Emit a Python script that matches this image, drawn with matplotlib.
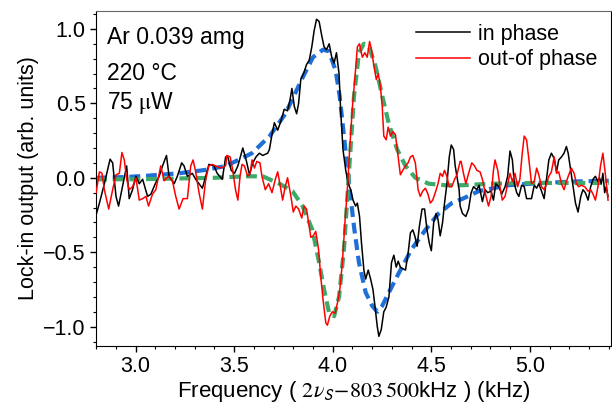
import matplotlib
matplotlib.use('Agg')
import matplotlib.pyplot as plt
from matplotlib.ticker import MultipleLocator

plt.rcParams['font.family'] = ['Liberation Sans', 'DejaVu Sans']
plt.rcParams['mathtext.fontset'] = 'stix'

# in phase (black)
x_in = [2.800, 2.817, 2.842, 2.871, 2.884, 2.901, 2.914, 2.935, 2.955, 2.968, 2.985, 3.002,
        3.019, 3.036, 3.061, 3.078, 3.100, 3.120, 3.137, 3.157, 3.170, 3.196, 3.212, 3.234,
        3.246, 3.263, 3.288, 3.305, 3.339, 3.356, 3.372, 3.398, 3.414, 3.440, 3.457, 3.468,
        3.485, 3.502, 3.519, 3.544, 3.561, 3.578, 3.594, 3.611, 3.628, 3.645, 3.670, 3.679,
        3.692, 3.704, 3.721, 3.737, 3.754, 3.771, 3.783, 3.793, 3.805, 3.817, 3.827, 3.838,
        3.855, 3.867, 3.881, 3.894, 3.906, 3.918, 3.931, 3.945, 3.956, 3.968, 3.982, 3.995,
        4.007, 4.019, 4.032, 4.040, 4.052, 4.066, 4.079, 4.091, 4.103, 4.116, 4.125, 4.136,
        4.146, 4.158, 4.167, 4.180, 4.192, 4.204, 4.214, 4.226, 4.234, 4.246, 4.259, 4.271,
        4.285, 4.298, 4.310, 4.322, 4.332, 4.343, 4.355, 4.369, 4.382, 4.394, 4.406, 4.416,
        4.428, 4.439, 4.453, 4.466, 4.478, 4.490, 4.500, 4.512, 4.524, 4.534, 4.545, 4.557,
        4.567, 4.579, 4.591, 4.601, 4.613, 4.621, 4.630, 4.641, 4.646, 4.658, 4.675, 4.689,
        4.702, 4.714, 4.731, 4.742, 4.759, 4.773, 4.786, 4.803, 4.815, 4.827, 4.843, 4.857,
        4.874, 4.887, 4.899, 4.911, 4.921, 4.933, 4.944, 4.958, 4.971, 4.983, 4.995, 5.008,
        5.022, 5.034, 5.045, 5.059, 5.072, 5.084, 5.096, 5.109, 5.123, 5.135, 5.146, 5.160,
        5.173, 5.185, 5.194, 5.207, 5.219, 5.231, 5.244, 5.258, 5.269, 5.281, 5.295, 5.308,
        5.320, 5.332, 5.345, 5.353, 5.362, 5.370, 5.379, 5.387, 5.396]
y_in = [-0.25, -0.17, -0.04, 0.125, 0.10, -0.125, -0.19, -0.05, 0.08, -0.14, -0.08, 0.01,
        -0.04, -0.01, -0.125, -0.11, -0.04, 0.01, 0.08, 0.15, 0.01, -0.04, 0.01, 0.10,
        0.08, 0.01, 0.03, -0.01, -0.07, 0.01, 0.09, 0.08, 0.03, -0.01, 0.14, 0.14,
        0.05, 0.03, 0.08, 0.20, 0.12, 0.02, 0.10, 0.14, 0.165, 0.15, 0.165, 0.19,
        0.29, 0.37, 0.32, 0.38, 0.46, 0.45, 0.52, 0.60, 0.48, 0.43, 0.50, 0.66,
        0.71, 0.76, 0.79, 0.88, 0.99, 1.065, 1.05, 0.95, 0.88, 0.86, 0.90, 0.81,
        0.77, 0.84, 0.70, 0.46, 0.19, 0.05, -0.04, -0.08, -0.15, -0.19, -0.17, -0.26,
        -0.44, -0.62, -0.68, -0.62, -0.68, -0.75, -0.86, -1.0, -1.065, -1.02, -0.90, -0.87,
        -0.80, -0.57, -0.52, -0.60, -0.56, -0.60, -0.61, -0.62, -0.51, -0.37, -0.35, -0.39,
        -0.46, -0.33, -0.21, -0.21, -0.35, -0.44, -0.49, -0.30, -0.24, -0.28, -0.39, -0.30,
        -0.17, -0.04, 0.14, 0.22, 0.19, 0.08, 0.01, -0.08, -0.19, -0.24, -0.26, -0.21,
        -0.10, -0.06, -0.08, -0.05, -0.16, -0.08, -0.10, -0.09, -0.15, -0.04, -0.06, -0.11,
        -0.06, 0.01, 0.18, 0.12, -0.04, -0.10, -0.125, -0.05, -0.06, -0.14, -0.14, -0.14,
        -0.05, -0.07, -0.04, -0.09, -0.14, -0.01, 0.12, 0.165, 0.13, 0.04, 0.12, 0.14,
        0.165, 0.21, 0.165, 0.05, -0.06, -0.17, -0.23, -0.125, -0.08, -0.10, -0.15, -0.06,
        -0.01, 0.01, -0.025, 0.0, -0.04, 0.03, -0.10, -0.06, -0.125]

# out-of phase (red)
x_out = [2.800, 2.817, 2.830, 2.842, 2.864, 2.884, 2.901, 2.918, 2.931, 2.943, 2.955, 2.968,
         2.985, 3.002, 3.019, 3.036, 3.053, 3.066, 3.086, 3.103, 3.128, 3.145, 3.167, 3.187,
         3.204, 3.221, 3.241, 3.263, 3.280, 3.292, 3.305, 3.322, 3.339, 3.356, 3.372, 3.389,
         3.406, 3.431, 3.457, 3.463, 3.480, 3.493, 3.507, 3.519, 3.530, 3.540, 3.552, 3.569,
         3.581, 3.591, 3.603, 3.615, 3.631, 3.641, 3.658, 3.675, 3.692, 3.709, 3.721, 3.732,
         3.746, 3.759, 3.771, 3.788, 3.800, 3.813, 3.827, 3.843, 3.855, 3.867, 3.881, 3.889,
         3.901, 3.914, 3.928, 3.939, 3.951, 3.965, 3.973, 3.985, 3.998, 4.012, 4.024, 4.036,
         4.049, 4.062, 4.074, 4.086, 4.099, 4.113, 4.125, 4.136, 4.150, 4.163, 4.175, 4.187,
         4.197, 4.209, 4.221, 4.231, 4.242, 4.251, 4.259, 4.271, 4.281, 4.293, 4.305, 4.318,
         4.332, 4.343, 4.355, 4.369, 4.382, 4.394, 4.406, 4.419, 4.433, 4.444, 4.456, 4.470,
         4.483, 4.495, 4.507, 4.520, 4.534, 4.545, 4.557, 4.567, 4.579, 4.591, 4.604, 4.618,
         4.630, 4.646, 4.651, 4.663, 4.675, 4.689, 4.705, 4.719, 4.731, 4.747, 4.759, 4.773,
         4.790, 4.803, 4.815, 4.823, 4.837, 4.848, 4.860, 4.874, 4.887, 4.899, 4.911, 4.924,
         4.938, 4.949, 4.961, 4.971, 4.983, 4.995, 5.008, 5.022, 5.034, 5.045, 5.059, 5.072,
         5.084, 5.096, 5.109, 5.123, 5.135, 5.146, 5.160, 5.173, 5.185, 5.197, 5.210, 5.224,
         5.236, 5.247, 5.261, 5.278, 5.295, 5.308, 5.320, 5.332, 5.345, 5.358, 5.370, 5.382,
         5.396]
y_out = [-0.10, 0.04, 0.03, -0.08, -0.21, -0.08, 0.02, 0.03, 0.17, 0.12, -0.01, -0.08,
         -0.06, 0.0, -0.15, -0.14, -0.125, -0.19, -0.11, -0.08, 0.08, -0.02, 0.01, -0.02,
         -0.125, -0.21, -0.14, -0.14, 0.08, 0.12, 0.04, -0.10, -0.21, -0.01, 0.08, 0.09,
         0.08, 0.065, 0.08, 0.15, 0.14, 0.05, -0.08, -0.15, 0.01, 0.09, 0.08, 0.01,
         0.03, 0.12, 0.065, 0.11, 0.10, 0.01, -0.08, -0.04, -0.10, -0.01, 0.04, -0.04,
         -0.15, -0.06, 0.0, -0.125, -0.23, -0.19, -0.21, -0.27, -0.19, -0.21, -0.33, -0.40,
         -0.39, -0.36, -0.48, -0.66, -0.82, -0.975, -0.99, -0.93, -0.90, -0.91, -0.84, -0.75,
         -0.57, -0.30, -0.08, 0.19, 0.46, 0.68, 0.88, 0.90, 0.81, 0.84, 0.81, 0.915,
         0.86, 0.75, 0.66, 0.70, 0.61, 0.48, 0.28, 0.255, 0.34, 0.28, 0.31, 0.29,
         0.14, 0.02, 0.05, 0.08, 0.10, 0.14, 0.15, 0.10, -0.08, -0.125, -0.09, -0.07,
         -0.11, -0.17, -0.15, -0.10, -0.04, 0.03, 0.01, 0.05, 0.01, -0.06, -0.06, -0.01,
         0.02, 0.11, 0.11, 0.03, -0.04, 0.03, 0.10, 0.08, 0.05, 0.04, -0.01, -0.10,
         -0.19, -0.125, 0.05, 0.12, 0.05, -0.06, -0.15, -0.125, -0.04, 0.03, -0.025, 0.03,
         -0.06, -0.01, 0.165, 0.28, 0.255, 0.12, -0.04, -0.025, 0.065, 0.02, -0.06, -0.08,
         -0.04, 0.01, 0.04, 0.14, 0.03, 0.04, -0.04, -0.08, -0.025, 0.02, 0.065, 0.03,
         -0.04, -0.06, -0.05, -0.06, -0.09, -0.08, -0.11, -0.15, -0.06, 0.08, 0.165, 0.03,
         -0.15]

# fitted curves (dashed)
x_fit_in = [2.80, 2.95, 3.05, 3.22, 3.36, 3.46, 3.59, 3.68, 3.76, 3.85, 3.90, 3.95, 3.98,
            4.015, 4.035, 4.057, 4.083, 4.108, 4.133, 4.167, 4.20, 4.226, 4.251, 4.285,
            4.335, 4.40, 4.47, 4.537, 4.604, 4.66, 4.74, 4.89, 5.06, 5.23, 5.40]
y_fit_in = [0.0, 0.005, 0.013, 0.03, 0.054, 0.08, 0.165, 0.28, 0.43, 0.68, 0.81, 0.86, 0.85,
            0.72, 0.55, 0.28, -0.04, -0.33, -0.57, -0.77, -0.86, -0.90, -0.86, -0.77,
            -0.64, -0.48, -0.35, -0.24, -0.17, -0.14, -0.09, -0.05, -0.035, -0.025, -0.02]
x_fit_out = [2.80, 3.00, 3.20, 3.40, 3.56, 3.645, 3.73, 3.796, 3.847, 3.897, 3.931, 3.956,
             3.982, 4.007, 4.032, 4.057, 4.083, 4.108, 4.133, 4.158, 4.184, 4.217, 4.251,
             4.285, 4.327, 4.369, 4.419, 4.487, 4.571, 4.66, 4.80, 5.00, 5.20, 5.40]
y_fit_out = [-0.01, -0.01, -0.005, 0.0, 0.01, 0.01, -0.04, -0.09, -0.19, -0.35, -0.57, -0.75,
             -0.91, -0.93, -0.80, -0.48, 0.05, 0.55, 0.84, 0.90, 0.88, 0.75, 0.55,
             0.36, 0.19, 0.08, 0.0, -0.04, -0.05, -0.05, -0.04, -0.035, -0.035, -0.035]

fig = plt.figure(figsize=(6.12, 4.09), dpi=100)
ax = fig.add_axes([0.157, 0.154, 0.841, 0.819])

ax.plot(x_fit_in, y_fit_in, color='#1f6fd8', lw=3.0, dashes=(2.6, 1.4), zorder=2)
ax.plot(x_fit_out, y_fit_out, color='#3cab6a', lw=3.0, dashes=(2.6, 1.4), zorder=2)
ax.plot(x_in, y_in, color='black', lw=1.1, label='in phase', zorder=3)
ax.plot(x_out, y_out, color='#ff0000', lw=1.1, label='out-of phase', zorder=3)

ax.set_xlim(2.8, 5.41)
ax.set_ylim(-1.13, 1.12)
ax.xaxis.set_major_locator(MultipleLocator(0.5))
ax.xaxis.set_minor_locator(MultipleLocator(0.1))
ax.yaxis.set_major_locator(MultipleLocator(0.5))
ax.yaxis.set_minor_locator(MultipleLocator(0.1))
ax.tick_params(which='both', direction='out', top=False, right=False, labelsize=15.5)
ax.tick_params(which='major', length=4.5, width=1, pad=3)
ax.tick_params(which='minor', length=2.5, width=0.8)
ax.spines['top'].set_color('0.4')

ax.set_xlabel(r'Frequency ( $2\nu_{\mathsf{S}}\!-\!803\,500$kHz ) (kHz)', fontsize=16, labelpad=1)
ax.set_ylabel('Lock-in output (arb. units)', fontsize=15.5, labelpad=3)

ax.text(0.021, 0.92, 'Ar 0.039 amg', transform=ax.transAxes, fontsize=16.5, va='center')
ax.text(0.021, 0.815, '220 °C', transform=ax.transAxes, fontsize=16.5, va='center')
ax.text(0.021, 0.724, r'75 $\mathrm{\mu}$W', transform=ax.transAxes, fontsize=16.5, va='center')

ax.legend(loc='upper right', bbox_to_anchor=(1.0, 1.0), frameon=False, fontsize=15.5,
          handlelength=2.5, handletextpad=0.4, labelspacing=0.2, borderaxespad=0.2)

fig.savefig('out.png', dpi=100)
